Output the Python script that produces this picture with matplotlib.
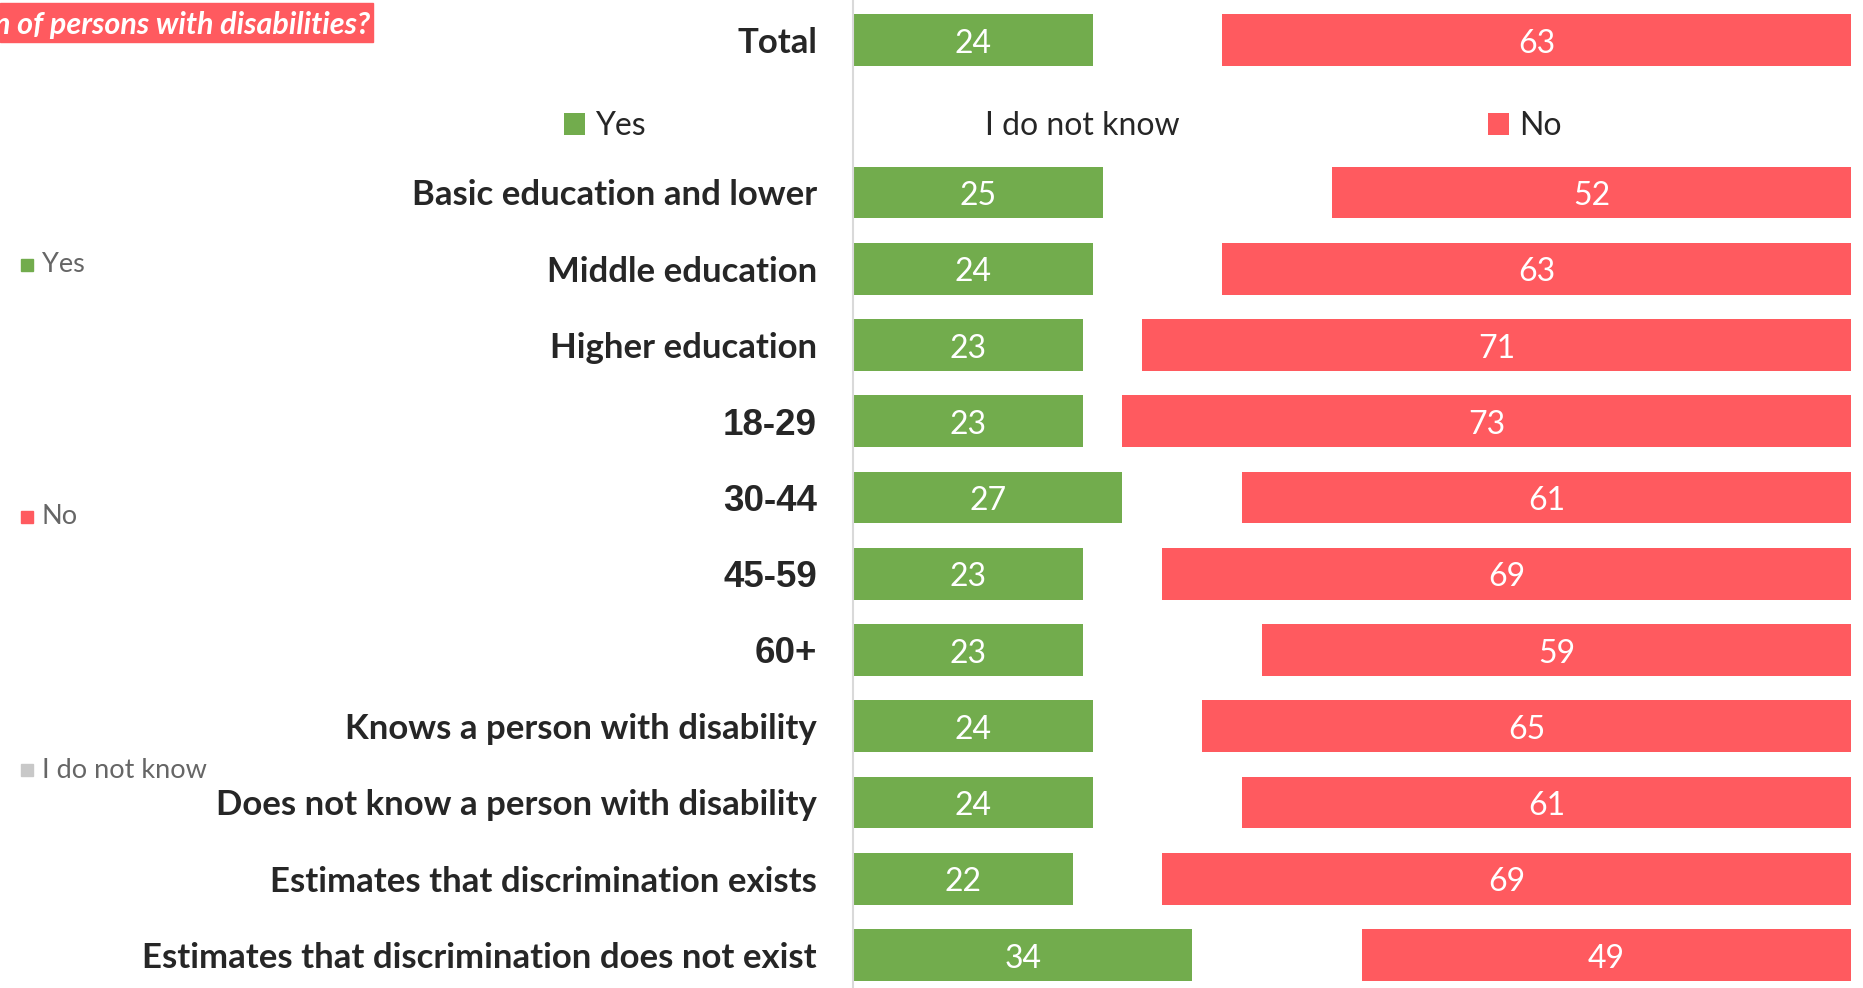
import matplotlib
matplotlib.use("Agg")
import matplotlib.pyplot as plt
from matplotlib.patches import Rectangle

# ------------------------------
# Data (percent of respondents)
# ------------------------------

categories = [
    "Total",
    "Basic education and lower",
    "Middle education",
    "Higher education",
    "18-29",
    "30-44",
    "45-59",
    "60+",
    "Knows a person with disability",
    "Does not know a person with disability",
    "Estimates that discrimination exists",
    "Estimates that discrimination does not exist",
]
yes_vals = [24, 25, 24, 23, 23, 27, 23, 23, 24, 24, 22, 34]
dk_vals = [13, 23, 13, 6, 4, 12, 8, 18, 11, 15, 9, 17]
no_vals = [63, 52, 63, 71, 73, 61, 69, 59, 65, 61, 69, 49]

series_names = ["Yes", "I do not know", "No"]
age_groups = ["18-29", "30-44", "45-59", "60+"]
title_text = "n of persons with disabilities?"

GREEN = "#72AC4D"
RED = "#FF5A5F"
GREY_MARK = "#C8C8C8"
DARK = "#262626"

W, H = 1863, 988
fig = plt.figure(figsize=(W / 100, H / 100), dpi=100)
ax = fig.add_axes([853 / W, 0, (1851 - 853) / W, 1])

# Total on top, then an empty slot (used by the legend), then the rest
ypos = [0] + list(range(2, len(categories) + 1))
left_no = [y + d for y, d in zip(yes_vals, dk_vals)]

b_yes = ax.barh(ypos, yes_vals, height=0.68, color=GREEN, label=series_names[0])
b_dk = ax.barh(ypos, dk_vals, left=yes_vals, height=0.68, color="white",
               label=series_names[1])
b_no = ax.barh(ypos, no_vals, left=left_no, height=0.68, color=RED,
               label=series_names[2])

for cont in (b_yes, b_no):
    anns = ax.bar_label(cont, label_type="center", color="white", fontsize=23,
                        fontfamily="Lato")
    for a in anns:
        a.xyann = (0, -2.6)  # nudge digits down to the visual centre

ax.set_xlim(0, 100)
ax.set_ylim(12.433, -0.5246)

ax.set_yticks(ypos)
ax.set_yticklabels(categories)
ax.tick_params(axis="y", length=0, pad=26)
for lab in ax.get_yticklabels():
    lab.set_color(DARK)
    lab.set_fontweight("bold")
    if lab.get_text() in age_groups:
        lab.set_fontfamily("Liberation Sans")
        lab.set_fontsize(26.5)
    else:
        lab.set_fontfamily("Lato")
        lab.set_fontsize(25)
ax.set_xticks([])

for s in ("top", "right", "bottom"):
    ax.spines[s].set_visible(False)
ax.spines["left"].set_color("#D9D9D9")
ax.spines["left"].set_linewidth(1.5)

# inner legend in the empty second row
leg = fig.legend(handles=[b_yes, b_dk, b_no], labels=series_names, ncol=3,
                 loc="center", bbox_to_anchor=(1063 / W, 1 - 126 / H),
                 frameon=False, prop={"family": "Lato", "size": 23},
                 handlelength=0.66, handleheight=0.66, handletextpad=0.31,
                 columnspacing=9.65, borderpad=0, borderaxespad=0)
for t in leg.get_texts():
    t.set_color(DARK)

# stretched legend on the far left
left_colors = [GREEN, RED, GREY_MARK]
left_names = [series_names[0], series_names[2], series_names[1]]
left_y = [265, 517, 770]
for name, col, yy in zip(left_names, left_colors, left_y):
    fig.patches.append(Rectangle((21 / W, 1 - (yy + 6) / H), 12 / W, 12 / H,
                                 transform=fig.transFigure, color=col))
    fig.text(42 / W, 1 - yy / H, name, fontsize=19.5, family="Lato",
             color="#666666", va="center", ha="left")

# cropped title banner (the original title runs off the left edge)
fig.patches.append(Rectangle((0, 1 - 42 / H), 373 / W, 39 / H,
                             transform=fig.transFigure, color=RED))
fig.text(370 / W, 1 - 25 / H, title_text, fontsize=22, family="Lato",
         fontweight="bold", fontstyle="italic", color="white",
         ha="right", va="center")

fig.savefig("out.png", dpi=100)
